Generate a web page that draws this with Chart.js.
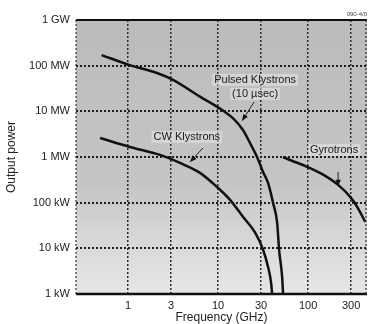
<!DOCTYPE html>
<html>
<head>
<meta charset="utf-8">
<script src="https://cdn.jsdelivr.net/npm/chart.js@4.4.1/dist/chart.umd.min.js"></script>
<style>
  html, body { margin: 0; padding: 0; background: #fff; }
  #wrap { width: 369px; height: 324px; }
</style>
</head>
<body>
<div id="wrap"><canvas id="chart" width="369" height="324"></canvas></div>
<script>
// ---- axes ------------------------------------------------------------
const freqTicks       = [1, 3, 10, 30, 100, 300];
const powerTicks      = [1e3, 1e4, 1e5, 1e6, 1e7, 1e8, 1e9];
const powerTickLabels = ['1 kW', '10 kW', '100 kW', '1 MW', '10 MW', '100 MW', '1 GW'];

// ---- series (GHz, W) -------------------------------------------------
const pulsedFreq  = [0.51, 1.05, 2.1, 3.16, 6.3, 10.5, 14.7, 18.9, 22.7, 27.1, 31.6, 35.9, 40.8, 45.3, 47.6, 51.4, 52.7];
const pulsedPower = [1.7e8, 1.03e8, 6.9e7, 4.9e7, 2.1e7, 1.15e7, 7.0e6, 3.9e6, 2.0e6, 1.0e6, 4.7e5, 2.7e5, 9.9e4, 3.6e4, 9.3e3, 2.4e3, 1e3];

const cwFreq  = [0.49, 1.05, 2.27, 3.78, 6.3, 9.75, 13.6, 18.9, 25.8, 31.6, 35.9, 38.8, 39.8];
const cwPower = [2.6e6, 1.66e6, 1.11e6, 7.4e5, 4.5e5, 2.2e5, 1.15e5, 4.9e4, 2.2e4, 9.3e3, 3.9e3, 1.76e3, 1e3];

const gyroFreq  = [52.7, 63, 97.5, 147, 215, 293, 350, 430];
const gyroPower = [1.0e6, 8.6e5, 6.1e5, 4.1e5, 2.45e5, 1.34e5, 8.1e4, 3.8e4];

// ---- curve labels & pointers (data coords) ----------------------------
const labelText  = ['Pulsed Klystrons', '(10 \u00b5sec)', 'CW Klystrons', 'Gyrotrons'];
const labelFreq  = [25.8, 25.8, 4.5, 194];
const labelPower = [4.9e7, 2.4e7, 2.75e6, 1.43e6];

const arrowFrom = [[25.1, 1.6e7], [6.8, 1.58e6], [215, 4.7e5]];
const arrowTo   = [[18.5, 6.2e6], [4.9, 7.8e5], [215, 2.3e5]];

const pts = (xs, ys) => xs.map((x, i) => ({ x, y: ys[i] }));

Chart.defaults.font.family = '"Liberation Sans", Arial, Helvetica, sans-serif';
Chart.defaults.color = '#222';

const bgPlugin = {
    id: 'plotBg',
    beforeDraw(chart) {
        const { ctx, chartArea: a } = chart;
        const g = ctx.createLinearGradient(0, a.top, 0, a.bottom);
        g.addColorStop(0, '#bbbbbb');
        g.addColorStop(0.6, '#c5c5c5');
        g.addColorStop(0.8, '#d8d8d8');
        g.addColorStop(1, '#e6e6e6');
        ctx.save();
        ctx.fillStyle = g;
        ctx.fillRect(a.left, a.top, a.right - a.left, a.bottom - a.top);
        ctx.restore();
    }
};

const framePlugin = {
    id: 'frame',
    afterDatasetsDraw(chart) {
        const { ctx, chartArea: a } = chart;
        ctx.save();
        ctx.strokeStyle = '#111';
        ctx.lineWidth = 2;
        ctx.beginPath(); ctx.moveTo(a.left, a.top); ctx.lineTo(a.right, a.top); ctx.stroke();
        ctx.lineWidth = 2.5;
        ctx.beginPath(); ctx.moveTo(a.left, a.bottom); ctx.lineTo(a.right, a.bottom); ctx.stroke();
        ctx.setLineDash([2, 2]);
        ctx.lineWidth = 1.2;
        ctx.strokeStyle = '#333';
        ctx.beginPath(); ctx.moveTo(a.left, a.top); ctx.lineTo(a.left, a.bottom); ctx.stroke();
        ctx.beginPath(); ctx.moveTo(a.right - 1, a.top); ctx.lineTo(a.right - 1, a.bottom); ctx.stroke();
        ctx.restore();

        ctx.save();
        ctx.font = '6px "Liberation Sans", Arial, sans-serif';
        ctx.fillStyle = '#444';
        ctx.textAlign = 'right';
        ctx.textBaseline = 'bottom';
        ctx.fillText('090-4/0', a.right, a.top - 3);
        ctx.restore();
    }
};

const notePlugin = {
    id: 'notes',
    afterDatasetsDraw(chart) {
        const { ctx } = chart;
        const xs = chart.scales.x, ys = chart.scales.y;
        ctx.save();
        // pointers
        arrowFrom.forEach((p, i) => {
            const x1 = xs.getPixelForValue(p[0]), y1 = ys.getPixelForValue(p[1]);
            const x2 = xs.getPixelForValue(arrowTo[i][0]), y2 = ys.getPixelForValue(arrowTo[i][1]);
            const ang = Math.atan2(y2 - y1, x2 - x1);
            ctx.strokeStyle = '#222';
            ctx.lineWidth = 1;
            ctx.beginPath(); ctx.moveTo(x1, y1); ctx.lineTo(x2, y2); ctx.stroke();
            ctx.fillStyle = '#111';
            ctx.beginPath();
            ctx.moveTo(x2, y2);
            ctx.lineTo(x2 - 7 * Math.cos(ang - 0.4), y2 - 7 * Math.sin(ang - 0.4));
            ctx.lineTo(x2 - 7 * Math.cos(ang + 0.4), y2 - 7 * Math.sin(ang + 0.4));
            ctx.closePath();
            ctx.fill();
        });
        // labels
        ctx.font = '11px "Liberation Sans", Arial, sans-serif';
        ctx.textAlign = 'center';
        ctx.textBaseline = 'middle';
        labelText.forEach((t, i) => {
            const x = xs.getPixelForValue(labelFreq[i]), y = ys.getPixelForValue(labelPower[i]);
            const w = ctx.measureText(t).width;
            ctx.fillStyle = 'rgba(240,240,240,0.45)';
            ctx.fillRect(x - w / 2 - 2, y - 6, w + 4, 12);
            ctx.fillStyle = '#1a1a1a';
            ctx.fillText(t, x, y);
        });
        ctx.restore();
    }
};

const lineStyle = {
    borderColor: '#111', borderWidth: 2.5, pointRadius: 0,
    cubicInterpolationMode: 'monotone', fill: false
};

new Chart(document.getElementById('chart'), {
    type: 'line',
    data: {
        datasets: [
            { label: 'Pulsed Klystrons (10 \u00b5sec)', data: pts(pulsedFreq, pulsedPower), ...lineStyle },
            { label: 'CW Klystrons', data: pts(cwFreq, cwPower), ...lineStyle },
            { label: 'Gyrotrons', data: pts(gyroFreq, gyroPower), ...lineStyle }
        ]
    },
    options: {
        responsive: false, animation: false, devicePixelRatio: 1,
        layout: { padding: { top: 20, right: 2, left: 0, bottom: 0 } },
        plugins: { legend: { display: false }, tooltip: { enabled: false } },
        scales: {
            x: {
                type: 'logarithmic', min: 0.265, max: 450,
                afterBuildTicks: s => { s.ticks = freqTicks.map(v => ({ value: v })); },
                afterFit: s => { s.height = 30; },
                ticks: { color: '#222', font: { size: 11 }, padding: 5, maxRotation: 0,
                         callback: (v, i) => String(freqTicks[i]) },
                grid: { color: '#2a2a2a', lineWidth: 1.5, drawTicks: false },
                border: { display: false, dash: [2, 2] },
                title: { display: true, text: 'Frequency (GHz)', color: '#222',
                         font: { size: 12 }, padding: { top: 0, bottom: -1 } }
            },
            y: {
                type: 'logarithmic', min: 1e3, max: 1e9,
                afterBuildTicks: s => { s.ticks = powerTicks.map(v => ({ value: v })); },
                afterFit: s => { s.width = 76; },
                ticks: { color: '#222', font: { size: 11 }, padding: 6,
                         callback: (v, i) => powerTickLabels[i] },
                grid: { color: '#1e1e1e', lineWidth: 2, drawTicks: false },
                border: { display: false, dash: [2, 2] },
                title: { display: true, text: 'Output power', color: '#222',
                         font: { size: 12 }, padding: { top: 4, bottom: 0 } }
            }
        }
    },
    plugins: [bgPlugin, framePlugin, notePlugin]
});
</script>
</body>
</html>
